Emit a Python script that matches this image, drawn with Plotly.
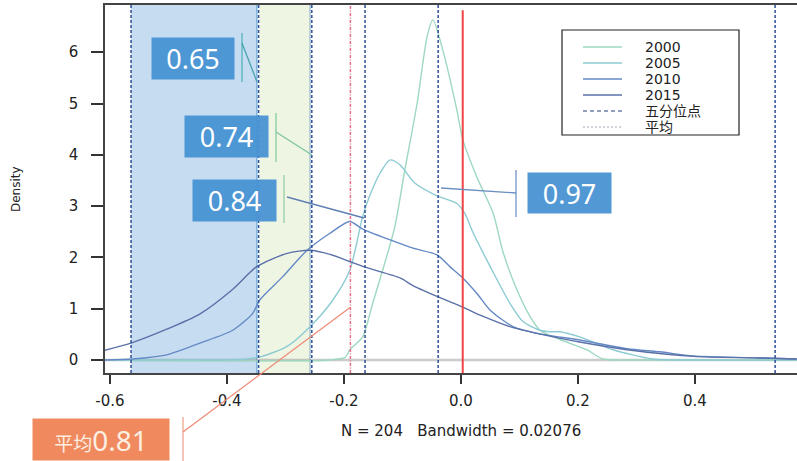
import plotly.graph_objects as go

# ---------------- data ----------------
x2000 = [-0.609, -0.224, -0.198, -0.190, -0.168, -0.151, -0.130, -0.113, -0.096, -0.075,
         -0.058, -0.048, -0.031, -0.007, 0.003, 0.027, 0.055, 0.072, 0.096, 0.118,
         0.135, 0.169, 0.215, 0.243, 0.305, 0.574]
y2000 = [0.0, 0.0, 0.05, 0.2, 0.45, 1.1, 1.9, 2.6, 3.7, 5.0,
         6.3, 6.63, 6.04, 4.87, 4.3, 3.57, 2.86, 2.1, 1.36, 0.85,
         0.58, 0.4, 0.2, 0.02, 0.0, 0.0]

x2005 = [-0.609, -0.446, -0.378, -0.344, -0.298, -0.258, -0.219, -0.190, -0.168, -0.156,
         -0.138, -0.121, -0.104, -0.079, -0.041, -0.007, 0.007, 0.020, 0.050, 0.084,
         0.106, 0.135, 0.152, 0.169, 0.203, 0.260, 0.328, 0.400, 0.574]
y2005 = [0.0, 0.0, 0.01, 0.06, 0.26, 0.65, 1.17, 1.75, 2.8, 3.2,
         3.65, 3.9, 3.8, 3.45, 3.2, 3.05, 2.85, 2.5, 1.82, 1.1,
         0.75, 0.58, 0.55, 0.55, 0.45, 0.2, 0.02, 0.0, 0.0]

x2010 = [-0.609, -0.561, -0.503, -0.446, -0.390, -0.356, -0.344, -0.305, -0.263, -0.224,
         -0.190, -0.168, -0.121, -0.082, -0.041, -0.019, 0.003, 0.027, 0.050, 0.089,
         0.130, 0.203, 0.284, 0.340, 0.397, 0.511, 0.574]
y2010 = [0.0, 0.02, 0.1, 0.33, 0.58, 0.91, 1.17, 1.62, 2.14, 2.47,
         2.70, 2.55, 2.34, 2.18, 2.05, 1.82, 1.6, 1.3, 0.97, 0.65,
         0.52, 0.39, 0.22, 0.16, 0.08, 0.04, 0.02]

x2015 = [-0.609, -0.564, -0.503, -0.446, -0.390, -0.349, -0.297, -0.258, -0.224, -0.190,
         -0.161, -0.104, -0.082, -0.041, 0.003, 0.038, 0.089, 0.130, 0.203, 0.284,
         0.397, 0.511, 0.574]
y2015 = [0.19, 0.33, 0.6, 0.9, 1.38, 1.82, 2.08, 2.14, 2.06, 1.92,
         1.8, 1.6, 1.45, 1.24, 1.03, 0.85, 0.63, 0.52, 0.35, 0.2,
         0.07, 0.04, 0.02]

series_names = ["2000", "2005", "2010", "2015"]
series_colors = ["#9dd8bf", "#8ccbd3", "#6489c6", "#5a70a8"]

quintiles = [-0.564, -0.346, -0.255, -0.164, -0.039, 0.537]
mean_value = -0.189
zero_line_x = 0.003
blue_band = [-0.564, -0.349]
green_band = [-0.345, -0.258]

x_ticks = [-0.6, -0.4, -0.2, 0.0, 0.2, 0.4]
x_ticklabels = ["-0.6", "-0.4", "-0.2", "0.0", "0.2", "0.4"]
y_ticks = [0, 1, 2, 3, 4, 5, 6]

callout_labels = ["0.65", "0.74", "0.84", "0.97"]
mean_label_prefix = "平均"
mean_label_value = "0.81"
legend_labels = ["2000", "2005", "2010", "2015", "五分位点", "平均"]
x_title = "N = 204\u00a0\u00a0\u00a0Bandwidth = 0.02076"
y_title = "Density"

# ---------------- layout geometry ----------------
W, H = 797, 461
ML, MR, MT, MB = 105, 0, 5, 88
PW, PH = W - ML - MR, H - MT - MB
XR = [-0.6085, 0.5744]
YR = [-0.2534, 6.920]


def px(p):  # pixel x -> paper
    return (p - ML) / PW


def py(p):  # pixel y -> paper
    return (H - MB - p) / PH


def dx(v):  # data x -> paper
    return (v - XR[0]) / (XR[1] - XR[0])


def dy(v):  # data y -> paper
    return (v - YR[0]) / (YR[1] - YR[0])


fig = go.Figure()

curves = [(x2000, y2000), (x2005, y2005), (x2010, y2010), (x2015, y2015)]
for (xs, ys), name, col in zip(curves, series_names, series_colors):
    fig.add_trace(go.Scatter(x=xs, y=ys, mode="lines", name=name,
                             line=dict(color=col, width=1.4, shape="spline", smoothing=0.7),
                             hoverinfo="skip", showlegend=False))

shapes = []
# shaded bands
shapes.append(dict(type="rect", xref="x", yref="paper", x0=blue_band[0], x1=blue_band[1],
                   y0=0, y1=1, fillcolor="#c6dcf1", line=dict(width=0), layer="below"))
shapes.append(dict(type="line", xref="x", yref="paper", x0=blue_band[1], x1=blue_band[1],
                   y0=0, y1=1, line=dict(color="#7fb2da", width=1.5), layer="below"))
shapes.append(dict(type="rect", xref="x", yref="paper", x0=green_band[0], x1=green_band[1],
                   y0=0, y1=1, fillcolor="#eef5e2", line=dict(width=0), layer="below"))
shapes.append(dict(type="line", xref="x", yref="paper", x0=green_band[1], x1=green_band[1],
                   y0=0, y1=1, line=dict(color="#8fb3cc", width=1.2), layer="below"))
# zero baseline
shapes.append(dict(type="line", xref="paper", yref="y", x0=0, x1=1, y0=0, y1=0,
                   line=dict(color="rgba(140,140,140,0.45)", width=2.5), layer="below"))
# quintile lines
for q in quintiles:
    shapes.append(dict(type="line", xref="x", yref="paper", x0=q, x1=q, y0=0, y1=1,
                       line=dict(color="#2f4f98", width=1.5, dash="3px,2px")))
# mean line
shapes.append(dict(type="line", xref="x", yref="paper", x0=mean_value, x1=mean_value, y0=0, y1=1,
                   line=dict(color="#e56f86", width=1.5, dash="3px,1.5px,1px,1.5px")))
# red reference line at 0
shapes.append(dict(type="line", xref="x", yref="y", x0=zero_line_x, x1=zero_line_x, y0=YR[0], y1=6.82,
                   line=dict(color="#f04545", width=2)))

annotations = []

# callout boxes: (label, box x0, x1, y0, y1 in px, bracket x, bracket y0, y1, line from, line to, colors)
callouts = [
    (callout_labels[0], 152, 234, 38, 79, 242, 33, 82, (242, 43), (257, 82), "#52b3bb", "#4aa3b0"),
    (callout_labels[1], 185, 268, 116, 157, 276, 113, 162, (276, 132), (312, 155), "#86cc9f", "#7fc4a4"),
    (callout_labels[2], 193, 276, 180, 221, 284, 175, 223, (287, 197), (364, 218), "#96cda6", "#5f7fb3"),
    (callout_labels[3], 528, 611, 173, 213, 516, 170, 217, (516, 193), (441, 188), "#6f93c6", "#6a8fc2"),
]
for lab, bx0, bx1, by0, by1, brx, bry0, bry1, lf, lt, bcol, lcol in callouts:
    shapes.append(dict(type="line", xref="paper", yref="paper", x0=px(brx), x1=px(brx),
                       y0=py(bry0), y1=py(bry1), line=dict(color=bcol, width=1.3)))
    shapes.append(dict(type="line", xref="paper", yref="paper", x0=px(lf[0]), x1=px(lt[0]),
                       y0=py(lf[1]), y1=py(lt[1]), line=dict(color=lcol, width=1.3)))
    annotations.append(dict(xref="paper", yref="paper", x=px((bx0 + bx1) / 2), y=py((by0 + by1) / 2),
                            xanchor="center", yanchor="middle", text=lab, showarrow=False,
                            width=bx1 - bx0, height=by1 - by0, borderpad=0, bgcolor="rgba(72,146,211,0.95)",
                            font=dict(family="Noto Sans", size=27, color="#ffffff")))

# mean callout (orange)
shapes.append(dict(type="line", xref="paper", yref="paper", x0=px(183), x1=px(183),
                   y0=py(417), y1=py(461), line=dict(color="#f2a58f", width=1.3)))
shapes.append(dict(type="line", xref="paper", yref="paper", x0=px(183), x1=dx(mean_value),
                   y0=py(432), y1=dy(1.03), line=dict(color="#f08a78", width=1.3)))
annotations.append(dict(xref="paper", yref="paper", x=px(101), y=py(439.5),
                        xanchor="center", yanchor="middle",
                        text='<span style="font-size:19px">' + mean_label_prefix + '</span>' + mean_label_value,
                        showarrow=False, width=136, height=41, borderpad=0, bgcolor="#f08a5e",
                        font=dict(family="Noto Sans, Noto Sans CJK SC", size=28, color="#fdeee2")))

# manual legend (R style)
shapes.append(dict(type="rect", xref="paper", yref="paper", x0=px(562), x1=px(739),
                   y0=py(135), y1=py(30), line=dict(color="#222222", width=1.2),
                   fillcolor="rgba(255,255,255,0)"))
legend_rows = [47, 63, 79, 95, 111, 127]
legend_styles = [(c, "solid") for c in series_colors] + [("#6f7fa8", "4px,3px"), ("#c0c8d0", "2px,2px")]
for lab, ry, (lc, ld) in zip(legend_labels, legend_rows, legend_styles):
    shapes.append(dict(type="line", xref="paper", yref="paper", x0=px(583), x1=px(622),
                       y0=py(ry), y1=py(ry), line=dict(color=lc, width=1.6, dash=ld)))
    annotations.append(dict(xref="paper", yref="paper", x=px(643), y=py(ry), xanchor="left",
                            yanchor="middle", text=lab, showarrow=False,
                            font=dict(family="DejaVu Sans, Noto Sans CJK SC", size=14, color="#222222")))

# axis titles
annotations.append(dict(xref="paper", yref="paper", x=px(461), y=py(431), xanchor="center",
                        yanchor="middle", text=x_title, showarrow=False,
                        font=dict(family="DejaVu Sans", size=15, color="#222222")))
annotations.append(dict(xref="paper", yref="paper", x=px(16), y=py(189), xanchor="center",
                        yanchor="middle", text=y_title, textangle=-90, showarrow=False,
                        font=dict(family="DejaVu Sans", size=12, color="#222222")))

fig.update_layout(
    width=W, height=H,
    margin=dict(l=ML, r=MR, t=MT, b=MB, pad=0, autoexpand=False),
    paper_bgcolor="white", plot_bgcolor="white",
    shapes=shapes, annotations=annotations, showlegend=False,
    xaxis=dict(range=XR, tickvals=x_ticks, ticktext=x_ticklabels, ticks="outside", ticklen=9,
               tickwidth=1.5, tickcolor="#333333", showline=True, linecolor="#444444", linewidth=1.5,
               mirror=True, showgrid=False, zeroline=False, ticklabelstandoff=4, automargin=False,
               tickfont=dict(family="DejaVu Sans", size=15, color="#222222")),
    yaxis=dict(range=YR, tickvals=y_ticks, ticks="outside", ticklen=12, tickwidth=1.5,
               tickcolor="#333333", showline=True, linecolor="#444444", linewidth=1.5,
               mirror=False, showgrid=False, zeroline=False, ticklabelstandoff=10, automargin=False,
               tickfont=dict(family="DejaVu Sans", size=15, color="#222222")),
)

fig.write_html("out.html", config={"displayModeBar": False},
               post_script="document.body.style.margin='0';document.body.style.padding='0';")
